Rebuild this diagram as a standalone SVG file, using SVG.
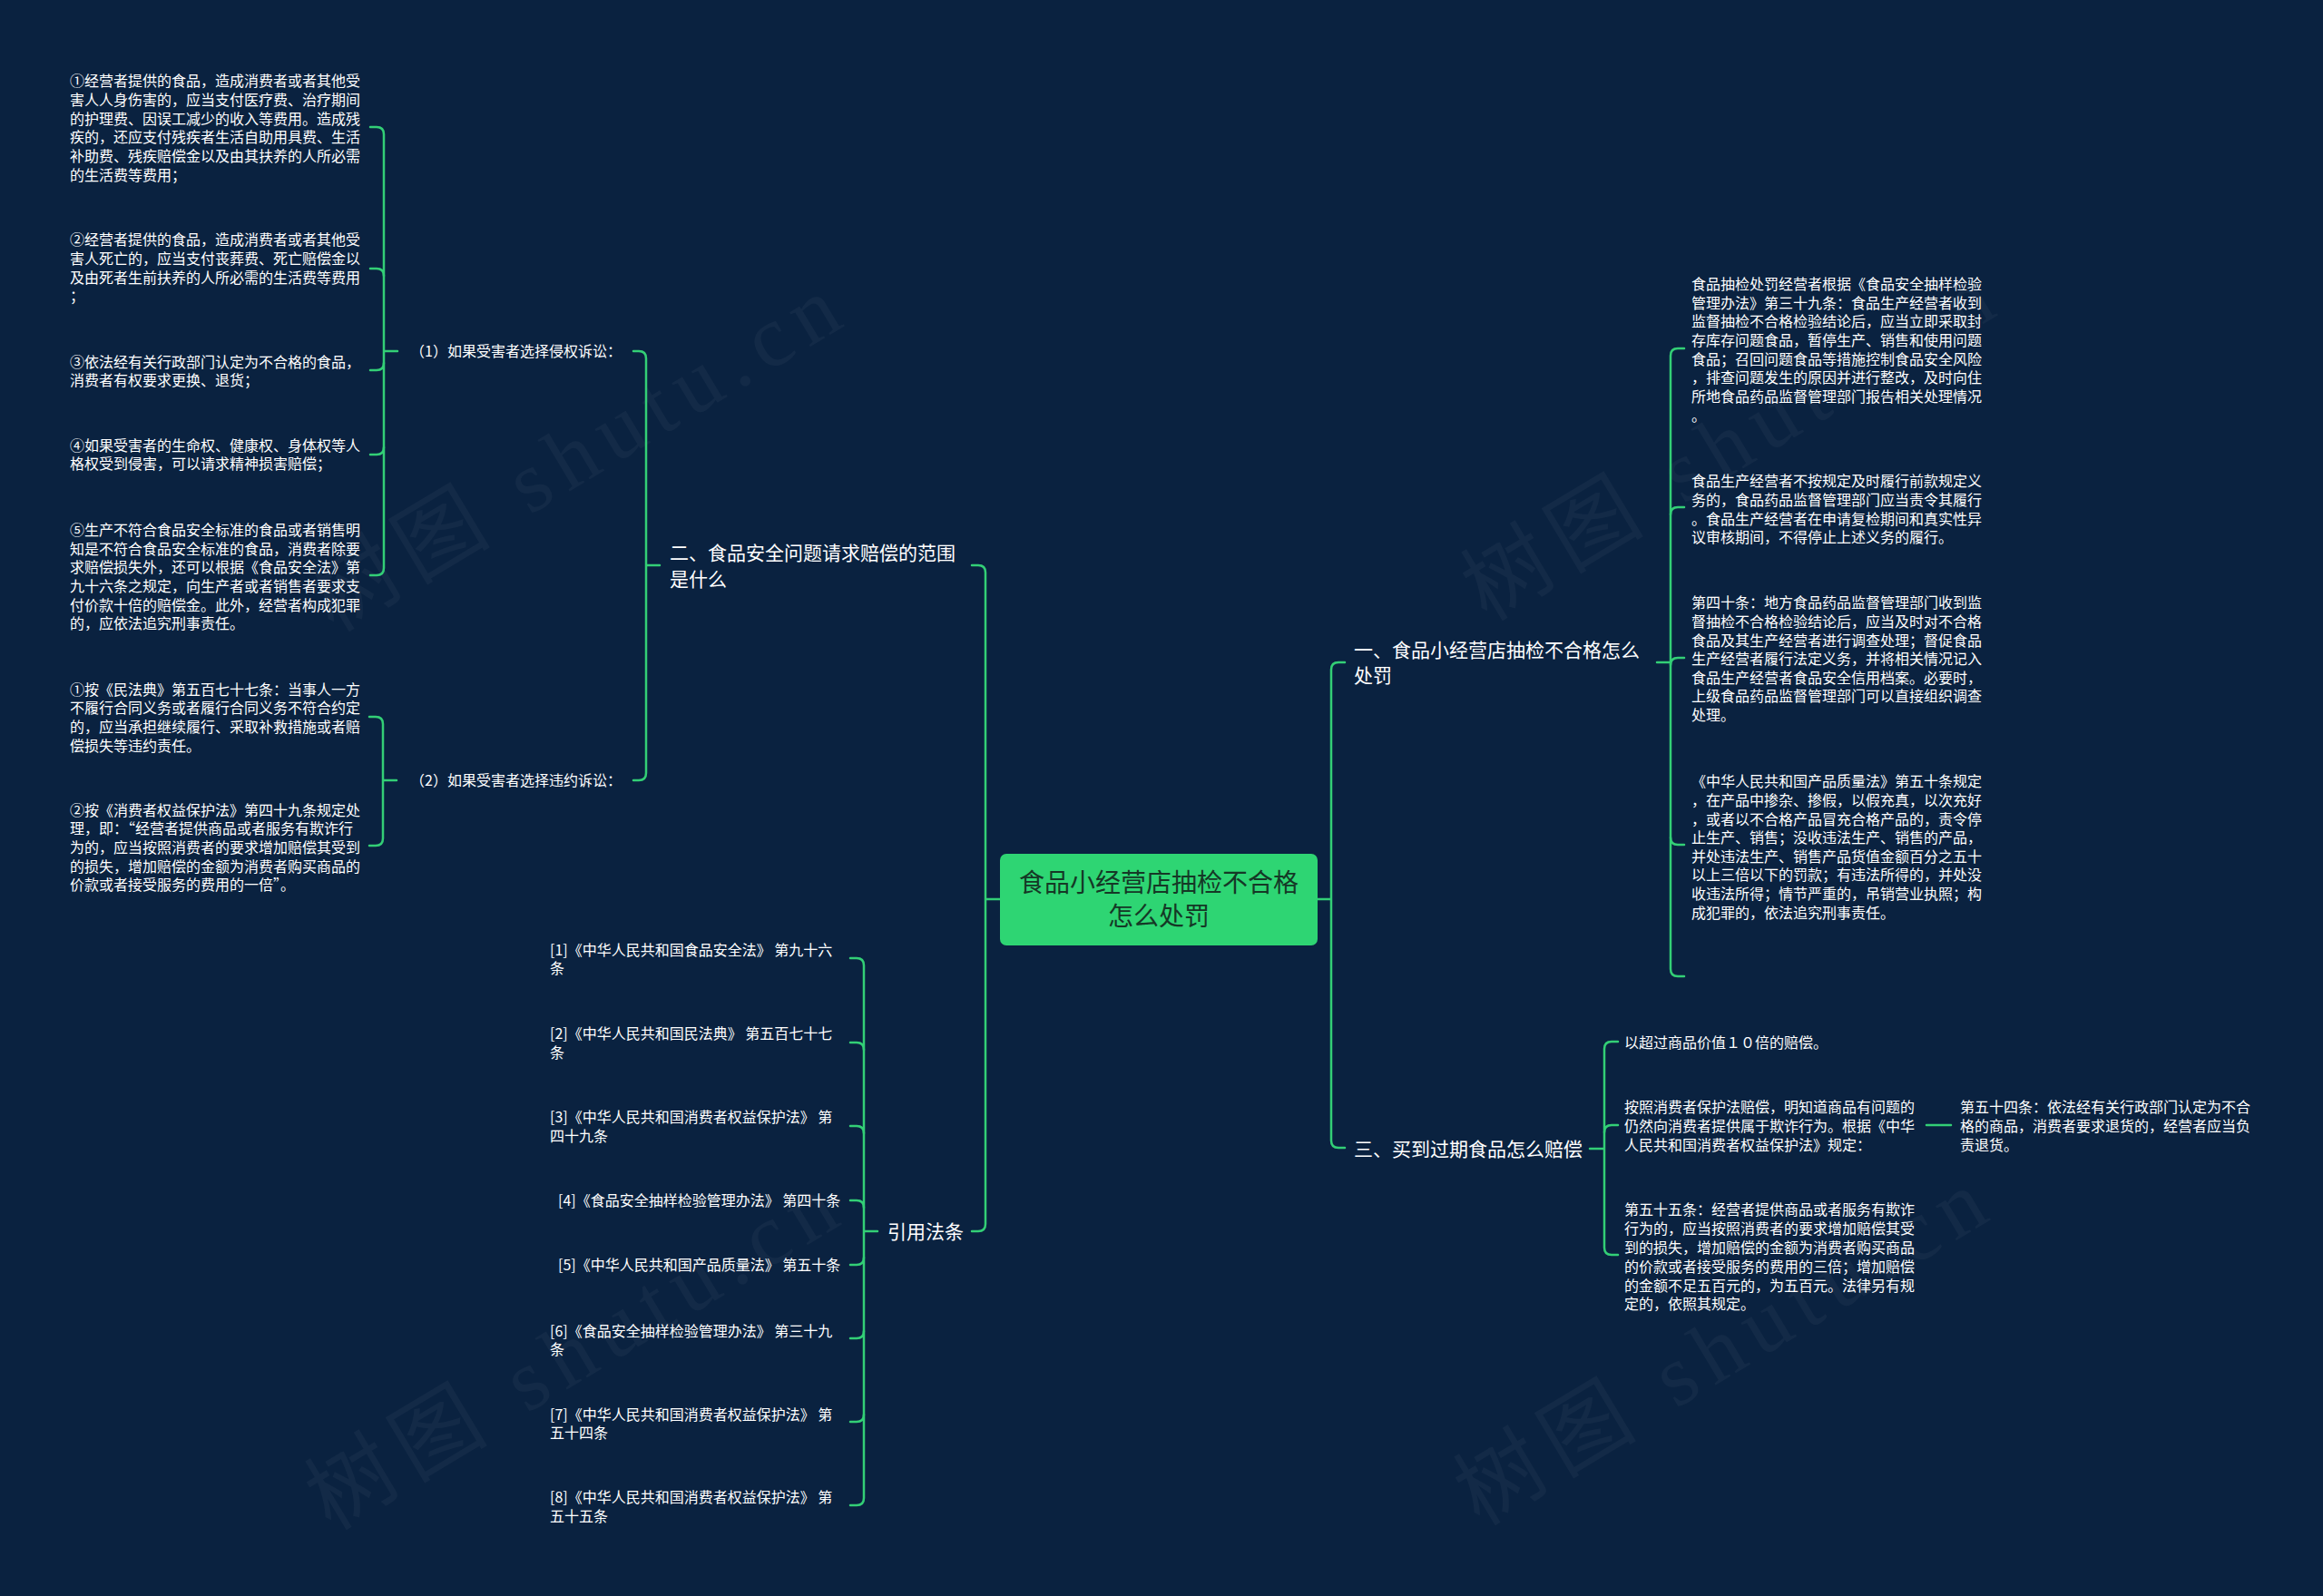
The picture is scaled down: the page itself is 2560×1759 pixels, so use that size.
<svg xmlns="http://www.w3.org/2000/svg" width="2560" height="1759" viewBox="0 0 2560 1759">
<style>
.t{font-family:"Noto Sans CJK SC","Noto Sans CJK SC",sans-serif;fill:#ffffff;font-size:16px}
.b{font-size:21px}
.m{font-family:"Noto Sans CJK SC",sans-serif;font-size:28px;fill:#153826}
.c{fill:none;stroke:#33cf76;stroke-width:2.5;stroke-linecap:round}
.w{font-family:"Liberation Serif","Noto Sans CJK SC",serif;font-size:96px;letter-spacing:12px;fill:#ffffff;opacity:0.035}
</style>
<rect x="0" y="0" width="2560" height="1759" fill="#0a2240"/>
<g id="watermarks">
<text class="w" text-anchor="middle" transform="translate(655,525) rotate(-31)">树图 shutu.cn</text>
<text class="w" text-anchor="middle" transform="translate(1926,513) rotate(-31)">树图 shutu.cn</text>
<text class="w" text-anchor="middle" transform="translate(652,1515) rotate(-31)">树图 shutu.cn</text>
<text class="w" text-anchor="middle" transform="translate(1918,1510) rotate(-31)">树图 shutu.cn</text>
</g>
<g id="connectors" class="c">
<path d="M1071,623 L1078,623 Q1086,623 1086,631 L1086,1349 Q1086,1357 1078,1357 L1071,1357 M1086,991 L1102,991"/>
<path d="M1482,730 L1475,730 Q1467,730 1467,738 L1467,1257 Q1467,1265 1475,1265 L1482,1265 M1467,991 L1452,991"/>
<path d="M698,387 L704,387 Q712,387 712,395 L712,852 Q712,860 704,860 L698,860 M712,623 L727,623"/>
<path d="M408,140 L415,140 Q423,140 423,148 L423,626 Q423,634 415,634 L408,634 M423,387 L438,387"/>
<path d="M423,304 Q423,296 415,296 L408,296 M423,400 Q423,408 415,408 L408,408 M423,493 Q423,501 415,501 L408,501"/>
<path d="M407,790 L414,790 Q422,790 422,798 L422,924 Q422,932 414,932 L407,932 M422,860 L437,860"/>
<path d="M937,1056 L944,1056 Q952,1056 952,1064 L952,1651 Q952,1659 944,1659 L937,1659 M952,1357 L967,1357"/>
<path d="M952,1157 Q952,1149 944,1149 L937,1149 M952,1249 Q952,1241 944,1241 L937,1241 M952,1331 Q952,1323 944,1323 L937,1323 M952,1386 Q952,1394 944,1394 L937,1394 M952,1467 Q952,1475 944,1475 L937,1475 M952,1559 Q952,1567 944,1567 L937,1567"/>
<path d="M1856,384 L1849,384 Q1841,384 1841,392 L1841,1068 Q1841,1076 1849,1076 L1856,1076 M1841,730 L1826,730"/>
<path d="M1841,567 Q1841,559 1849,559 L1856,559 M1841,733 Q1841,725 1849,725 L1856,725 M1841,923 Q1841,931 1849,931 L1856,931"/>
<path d="M1783,1148 L1776,1148 Q1768,1148 1768,1156 L1768,1375 Q1768,1383 1776,1383 L1783,1383 M1768,1266 L1752,1266"/>
<path d="M1768,1248 Q1768,1240 1776,1240 L1783,1240"/>
<path d="M2123,1240 L2150,1240"/>
</g>
<g id="root">
<rect x="1102" y="941" width="350" height="101" rx="7" fill="#2ed573"/>
<text class="m" text-anchor="middle"><tspan x="1277" y="983">食品小经营店抽检不合格</tspan><tspan x="1277" y="1020">怎么处罚</tspan></text>
</g>
<g id="branch-2">
<text class="t b"><tspan x="738" y="617">二、食品安全问题请求赔偿的范围</tspan><tspan x="738" y="646">是什么</tspan></text>
</g>
<g id="sub-1">
<text class="t" x="452" y="393">（1）如果受害者选择侵权诉讼：</text>
</g>
<g id="sub-2">
<text class="t" x="452" y="866">（2）如果受害者选择违约诉讼：</text>
</g>
<g id="item-1-1">
<text class="t"><tspan x="77" y="95">①经营者提供的食品，造成消费者或者其他受</tspan><tspan x="77" y="116">害人人身伤害的，应当支付医疗费、治疗期间</tspan><tspan x="77" y="137">的护理费、因误工减少的收入等费用。造成残</tspan><tspan x="77" y="157">疾的，还应支付残疾者生活自助用具费、生活</tspan><tspan x="77" y="178">补助费、残疾赔偿金以及由其扶养的人所必需</tspan><tspan x="77" y="199">的生活费等费用；</tspan></text>
</g>
<g id="item-1-2">
<text class="t"><tspan x="77" y="270">②经营者提供的食品，造成消费者或者其他受</tspan><tspan x="77" y="291">害人死亡的，应当支付丧葬费、死亡赔偿金以</tspan><tspan x="77" y="312">及由死者生前扶养的人所必需的生活费等费用</tspan><tspan x="77" y="332">；</tspan></text>
</g>
<g id="item-1-3">
<text class="t"><tspan x="77" y="405">③依法经有关行政部门认定为不合格的食品，</tspan><tspan x="77" y="425">消费者有权要求更换、退货；</tspan></text>
</g>
<g id="item-1-4">
<text class="t"><tspan x="77" y="497">④如果受害者的生命权、健康权、身体权等人</tspan><tspan x="77" y="517">格权受到侵害，可以请求精神损害赔偿；</tspan></text>
</g>
<g id="item-1-5">
<text class="t"><tspan x="77" y="590">⑤生产不符合食品安全标准的食品或者销售明</tspan><tspan x="77" y="611">知是不符合食品安全标准的食品，消费者除要</tspan><tspan x="77" y="631">求赔偿损失外，还可以根据《食品安全法》第</tspan><tspan x="77" y="652">九十六条之规定，向生产者或者销售者要求支</tspan><tspan x="77" y="673">付价款十倍的赔偿金。此外，经营者构成犯罪</tspan><tspan x="77" y="693">的，应依法追究刑事责任。</tspan></text>
</g>
<g id="item-2-1">
<text class="t"><tspan x="77" y="766">①按《民法典》第五百七十七条：当事人一方</tspan><tspan x="77" y="786">不履行合同义务或者履行合同义务不符合约定</tspan><tspan x="77" y="807">的，应当承担继续履行、采取补救措施或者赔</tspan><tspan x="77" y="828">偿损失等违约责任。</tspan></text>
</g>
<g id="item-2-2">
<text class="t"><tspan x="77" y="899">②按《消费者权益保护法》第四十九条规定处</tspan><tspan x="77" y="919">理，即：“经营者提供商品或者服务有欺诈行</tspan><tspan x="77" y="940">为的，应当按照消费者的要求增加赔偿其受到</tspan><tspan x="77" y="961">的损失，增加赔偿的金额为消费者购买商品的</tspan><tspan x="77" y="981">价款或者接受服务的费用的一倍”。</tspan></text>
</g>
<g id="branch-cite">
<text class="t b" x="978" y="1365">引用法条</text>
</g>
<g id="cite-1"><text class="t"><tspan x="606" y="1053">[1]《中华人民共和国食品安全法》 第九十六</tspan><tspan x="606" y="1073">条</tspan></text></g>
<g id="cite-2"><text class="t"><tspan x="606" y="1145">[2]《中华人民共和国民法典》 第五百七十七</tspan><tspan x="606" y="1166">条</tspan></text></g>
<g id="cite-3"><text class="t"><tspan x="606" y="1237">[3]《中华人民共和国消费者权益保护法》 第</tspan><tspan x="606" y="1258">四十九条</tspan></text></g>
<g id="cite-4"><text class="t" x="615" y="1329">[4]《食品安全抽样检验管理办法》 第四十条</text></g>
<g id="cite-5"><text class="t" x="615" y="1400">[5]《中华人民共和国产品质量法》 第五十条</text></g>
<g id="cite-6"><text class="t"><tspan x="606" y="1473">[6]《食品安全抽样检验管理办法》 第三十九</tspan><tspan x="606" y="1493">条</tspan></text></g>
<g id="cite-7"><text class="t"><tspan x="606" y="1565">[7]《中华人民共和国消费者权益保护法》 第</tspan><tspan x="606" y="1585">五十四条</tspan></text></g>
<g id="cite-8"><text class="t"><tspan x="606" y="1656">[8]《中华人民共和国消费者权益保护法》 第</tspan><tspan x="606" y="1677">五十五条</tspan></text></g>
<g id="branch-1">
<text class="t b"><tspan x="1492" y="724">一、食品小经营店抽检不合格怎么</tspan><tspan x="1492" y="752">处罚</tspan></text>
</g>
<g id="item-r1-1">
<text class="t"><tspan x="1864" y="319">食品抽检处罚经营者根据《食品安全抽样检验</tspan><tspan x="1864" y="340">管理办法》第三十九条：食品生产经营者收到</tspan><tspan x="1864" y="360">监督抽检不合格检验结论后，应当立即采取封</tspan><tspan x="1864" y="381">存库存问题食品，暂停生产、销售和使用问题</tspan><tspan x="1864" y="402">食品；召回问题食品等措施控制食品安全风险</tspan><tspan x="1864" y="422">，排查问题发生的原因并进行整改，及时向住</tspan><tspan x="1864" y="443">所地食品药品监督管理部门报告相关处理情况</tspan><tspan x="1864" y="464">。</tspan></text>
</g>
<g id="item-r1-2">
<text class="t"><tspan x="1864" y="536">食品生产经营者不按规定及时履行前款规定义</tspan><tspan x="1864" y="557">务的，食品药品监督管理部门应当责令其履行</tspan><tspan x="1864" y="578">。食品生产经营者在申请复检期间和真实性异</tspan><tspan x="1864" y="598">议审核期间，不得停止上述义务的履行。</tspan></text>
</g>
<g id="item-r1-3">
<text class="t"><tspan x="1864" y="670">第四十条：地方食品药品监督管理部门收到监</tspan><tspan x="1864" y="691">督抽检不合格检验结论后，应当及时对不合格</tspan><tspan x="1864" y="712">食品及其生产经营者进行调查处理；督促食品</tspan><tspan x="1864" y="732">生产经营者履行法定义务，并将相关情况记入</tspan><tspan x="1864" y="753">食品生产经营者食品安全信用档案。必要时，</tspan><tspan x="1864" y="773">上级食品药品监督管理部门可以直接组织调查</tspan><tspan x="1864" y="794">处理。</tspan></text>
</g>
<g id="item-r1-4">
<text class="t"><tspan x="1864" y="867">《中华人民共和国产品质量法》第五十条规定</tspan><tspan x="1864" y="888">，在产品中掺杂、掺假，以假充真，以次充好</tspan><tspan x="1864" y="909">，或者以不合格产品冒充合格产品的，责令停</tspan><tspan x="1864" y="929">止生产、销售；没收违法生产、销售的产品，</tspan><tspan x="1864" y="950">并处违法生产、销售产品货值金额百分之五十</tspan><tspan x="1864" y="970">以上三倍以下的罚款；有违法所得的，并处没</tspan><tspan x="1864" y="991">收违法所得；情节严重的，吊销营业执照；构</tspan><tspan x="1864" y="1012">成犯罪的，依法追究刑事责任。</tspan></text>
</g>
<g id="branch-3">
<text class="t b" x="1492" y="1274">三、买到过期食品怎么赔偿</text>
</g>
<g id="item-r3-1">
<text class="t" x="1790" y="1155">以超过商品价值１０倍的赔偿。</text>
</g>
<g id="item-r3-2">
<text class="t"><tspan x="1790" y="1226">按照消费者保护法赔偿，明知道商品有问题的</tspan><tspan x="1790" y="1247">仍然向消费者提供属于欺诈行为。根据《中华</tspan><tspan x="1790" y="1268">人民共和国消费者权益保护法》规定：</tspan></text>
</g>
<g id="item-r3-2-1">
<text class="t"><tspan x="2160" y="1226">第五十四条：依法经有关行政部门认定为不合</tspan><tspan x="2160" y="1247">格的商品，消费者要求退货的，经营者应当负</tspan><tspan x="2160" y="1268">责退货。</tspan></text>
</g>
<g id="item-r3-3">
<text class="t"><tspan x="1790" y="1339">第五十五条：经营者提供商品或者服务有欺诈</tspan><tspan x="1790" y="1360">行为的，应当按照消费者的要求增加赔偿其受</tspan><tspan x="1790" y="1381">到的损失，增加赔偿的金额为消费者购买商品</tspan><tspan x="1790" y="1402">的价款或者接受服务的费用的三倍；增加赔偿</tspan><tspan x="1790" y="1423">的金额不足五百元的，为五百元。法律另有规</tspan><tspan x="1790" y="1443">定的，依照其规定。</tspan></text>
</g>
</svg>
